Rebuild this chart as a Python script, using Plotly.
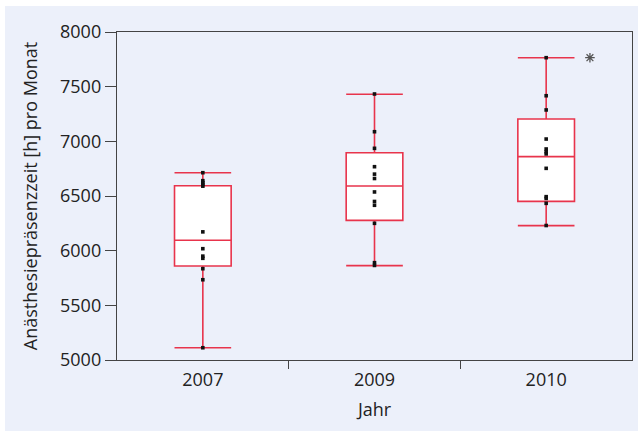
import plotly.graph_objects as go

# ---- data ----
years = ["2007", "2009", "2010"]
values_2007 = [6713, 6640, 6622, 6605, 6590, 6172, 6018, 5950, 5930, 5835, 5734, 5112]
values_2009 = [7433, 7088, 6936, 6768, 6700, 6660, 6537, 6450, 6415, 6250, 5890, 5865]
values_2010 = [7765, 7417, 7287, 7021, 6930, 6905, 6885, 6753, 6494, 6478, 6433, 6230]
q1 = [5860, 6277, 6451]
median = [6095, 6591, 6860]
q3 = [6594, 6896, 7204]
lowerfence = [5112, 5863, 6229]
upperfence = [6713, 7430, 7765]
outlier_year_index = 2
outlier_value = 7765

series = [values_2007, values_2009, values_2010]

RED = "rgb(232,52,76)"
BG = "#ECF0FA"
FONT = "Open Sans"

pos = [i + 0.5 for i in range(len(years))]

fig = go.Figure()
fig.add_trace(go.Box(
    x=pos, q1=q1, median=median, q3=q3,
    lowerfence=lowerfence, upperfence=upperfence,
    width=0.33, whiskerwidth=1,
    fillcolor="white", line=dict(color=RED, width=1.6),
    boxpoints=False, hoverinfo="skip", showlegend=False,
))

px, py = [], []
for i, vals in enumerate(series):
    px += [pos[i]] * len(vals)
    py += vals
fig.add_trace(go.Scatter(
    x=px, y=py, mode="markers",
    marker=dict(symbol="square", size=3.6, color="#111111"),
    showlegend=False, hoverinfo="skip",
))

# significance asterisk next to the 2010 maximum
fig.add_trace(go.Scatter(
    x=[pos[outlier_year_index] + 0.255], y=[outlier_value], mode="markers",
    marker=dict(symbol="asterisk-open", size=8, color="#555555",
                line=dict(color="#555555", width=1.3)),
    showlegend=False, hoverinfo="skip",
))

fig.update_layout(
    width=638, height=431,
    margin=dict(l=117, r=6, t=32, b=71),
    paper_bgcolor="white", plot_bgcolor=BG,
    font=dict(family=FONT, size=18, color="#222222"),
    shapes=[dict(type="rect", xref="paper", yref="paper",
                 x0=-0.2175, x1=1.02, y0=-0.23, y1=1.079,
                 fillcolor=BG, line=dict(width=0), layer="below")],
    xaxis=dict(range=[0, 3], tickvals=[1, 2], ticktext=["", ""],
               ticks="outside", ticklen=8, tickwidth=1.4, tickcolor="#444444",
               showline=True, linecolor="#444444", linewidth=1.4, mirror=True,
               showgrid=False, zeroline=False, fixedrange=True),
    xaxis2=dict(range=[0, 3], overlaying="x", side="bottom",
                tickvals=pos, ticktext=years,
                ticks="outside", ticklen=3, tickcolor="rgba(0,0,0,0)",
                showline=False, showgrid=False, zeroline=False,
                title=dict(text="Jahr", standoff=13, font=dict(size=18))),
    yaxis=dict(range=[5000, 8000], dtick=500,
               ticks="outside", ticklen=11, tickwidth=1.4, tickcolor="#444444",
               showline=True, linecolor="#444444", linewidth=1.4, mirror=True,
               showgrid=False, zeroline=False,
               title=dict(text="Anästhesiepräsenzzeit [h] pro Monat", standoff=17,
                          font=dict(size=18))),
)
# dummy trace so xaxis2 is drawn
fig.add_trace(go.Scatter(x=[None], y=[None], xaxis="x2", showlegend=False, hoverinfo="skip"))

fig.write_html("out.html", config={"displayModeBar": False},
               post_script="document.body.style.margin='0';")
